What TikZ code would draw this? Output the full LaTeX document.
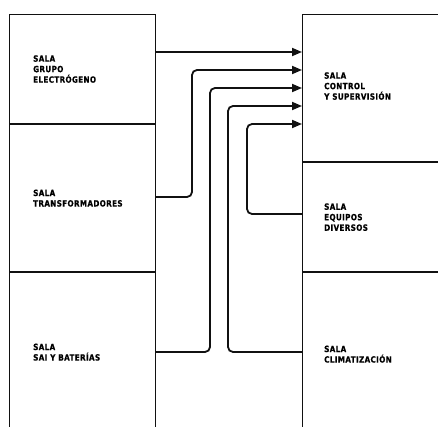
\documentclass[tikz,border=0pt]{standalone}
\usepackage{fontspec}
\usepackage{xcolor}
\usepackage{tikz}
\usetikzlibrary{positioning, arrows.meta, calc}
\newfontfamily\salafont[FakeStretch=0.84, LetterSpace=4, FakeBold=0.6]{DejaVu Sans Bold}
\definecolor{linegray}{HTML}{111111}

\tikzset{
  sala/.style={draw=linegray, line width=1.1pt, inner sep=0pt, anchor=north west},
  rotulo/.style={font=\salafont\fontsize{8.6}{10.5}\selectfont, align=left, inner sep=0pt, anchor=west},
  flecha/.style={draw=linegray, line width=1.8pt, rounded corners=5pt,
                 -{Triangle[length=10pt, width=8pt]}}
}

\begin{document}
\begin{tikzpicture}[x=1pt, y=-1pt]
    \useasboundingbox (0,0) rectangle (438,427);
    \clip (0,0) rectangle (438,427);

    % left column
    \node[sala, minimum width=146pt, minimum height=109pt] (grupo) at (9,14) {};
    \node[sala, minimum width=146pt, minimum height=147pt] (trafo) at (grupo.south west) {};
    \node[sala, minimum width=146pt, minimum height=170pt] (sai) at (trafo.south west) {};

    % right column
    \node[sala, minimum width=150pt, minimum height=147pt] (control) at (302,14) {};
    \node[sala, minimum width=150pt, minimum height=109pt] (equipos) at (control.south west) {};
    \node[sala, minimum width=150pt, minimum height=170pt] (clima) at (equipos.south west) {};

    \node[rotulo] (tgrupo) at ($(grupo.west)+(24,0)$) {SALA\\GRUPO\\ELECTRÓGENO};
    \node[rotulo] (ttrafo) at ($(trafo.west)+(24,0)$) {SALA\\TRANSFORMADORES};
    \node[rotulo] (tsai) at ($(sai.north west)+(24,80)$) {SALA\\SAI Y BATERÍAS};
    \node[rotulo] (tcontrol) at ($(control.west)+(22,-2)$) {SALA\\CONTROL\\Y SUPERVISIÓN};
    \node[rotulo] (tequipos) at ($(equipos.west)+(22,0)$) {SALA\\EQUIPOS\\DIVERSOS};
    \node[rotulo] (tclima) at ($(clima.north west)+(22,82)$) {SALA\\CLIMATIZACIÓN};

    % connections into control
    \draw[flecha] (grupo.east |- 0,52) -- (control.west |- 0,52);
    \draw[flecha] (trafo.east |- 0,197) -| (192,70) -- (control.west |- 0,70);
    \draw[flecha] (sai.east |- 0,352) -| (210,88) -- (control.west |- 0,88);
    \draw[flecha] (clima.west |- 0,352) -| (228,106) -- (control.west |- 0,106);
    \draw[flecha] (equipos.west |- 0,214) -| (247,124) -- (control.west |- 0,124);
\end{tikzpicture}
\end{document}
